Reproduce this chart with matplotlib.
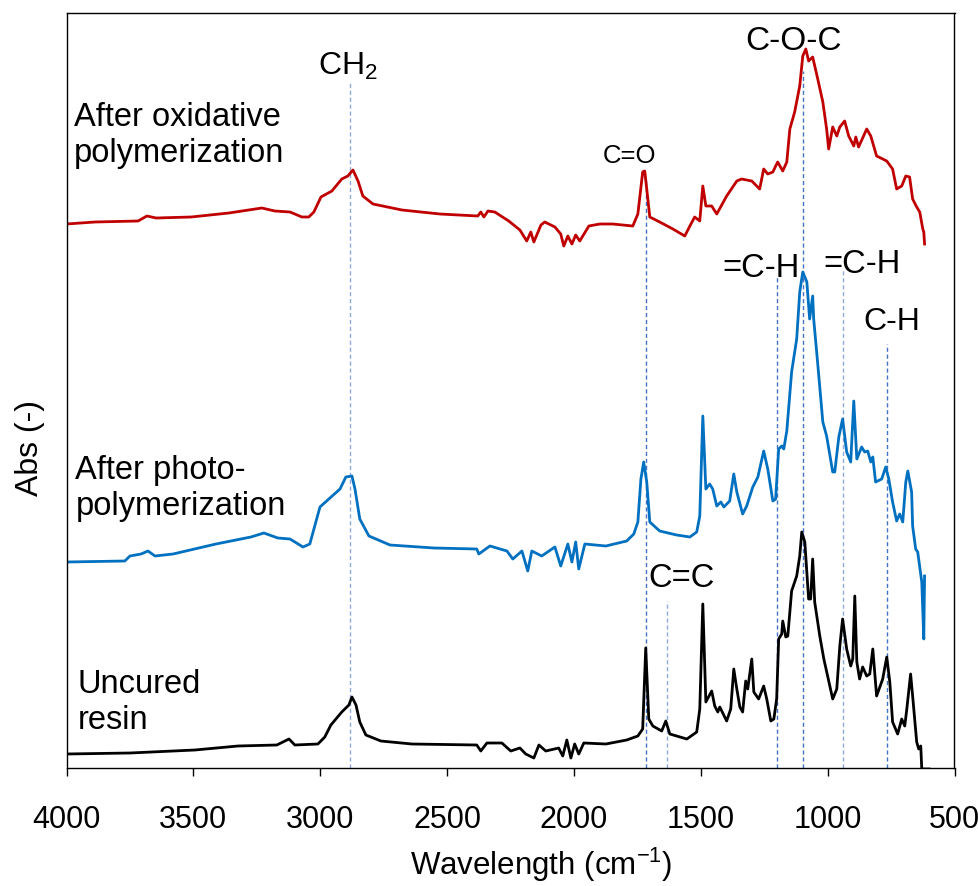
import matplotlib
matplotlib.use('Agg')
import matplotlib.pyplot as plt

## FTIR spectra of the resin, stacked
plt.rcParams['font.family'] = ['Liberation Sans', 'DejaVu Sans']
plt.rcParams['mathtext.fontset'] = 'custom'
plt.rcParams['mathtext.rm'] = 'Liberation Sans'
plt.rcParams['mathtext.it'] = 'Liberation Sans:italic'

# Uncured resin (black)
wn_uncured = [4000, 3750, 3494, 3324, 3171, 3123, 3100, 3009, 2982, 2958, 2915, 2887, 2875, 2859,
              2844, 2820, 2761, 2639, 2383, 2367, 2343, 2284, 2249, 2213, 2190, 2158, 2138, 2111,
              2060, 2044, 2028, 2012, 1997, 1981, 1961, 1874, 1792, 1748, 1729, 1717, 1705, 1689,
              1654, 1638, 1622, 1555, 1516, 1504, 1492, 1480, 1457, 1445, 1433, 1425, 1398, 1382,
              1370, 1358, 1346, 1335, 1323, 1315, 1299, 1291, 1272, 1252, 1240, 1224, 1212, 1201,
              1193, 1181, 1177, 1165, 1157, 1142, 1122, 1110, 1102, 1090, 1075, 1067, 1059, 1051,
              1031, 1015, 980, 964, 952, 941, 925, 909, 901, 893, 885, 874, 862, 846, 834, 822,
              807, 783, 767, 755, 744, 724, 708, 696, 688, 673, 665, 649, 641, 633, 629, 600]
abs_uncured = [0.12, 0.13, 0.16, 0.20, 0.21, 0.27, 0.21, 0.22, 0.29, 0.41, 0.54, 0.61, 0.69, 0.61,
               0.44, 0.31, 0.25, 0.22, 0.21, 0.15, 0.23, 0.23, 0.15, 0.18, 0.12, 0.08, 0.21, 0.15,
               0.18, 0.10, 0.26, 0.08, 0.22, 0.12, 0.23, 0.22, 0.26, 0.30, 0.37, 1.18, 0.47, 0.40,
               0.35, 0.45, 0.32, 0.27, 0.34, 0.57, 1.62, 0.64, 0.75, 0.60, 0.54, 0.59, 0.45, 0.57,
               0.97, 0.77, 0.59, 0.54, 0.85, 0.77, 1.07, 0.74, 0.67, 0.80, 0.67, 0.45, 0.47, 0.67,
               1.27, 1.32, 1.45, 1.29, 1.30, 1.75, 1.90, 2.10, 2.34, 2.24, 1.67, 1.67, 2.07, 1.64,
               1.30, 1.07, 0.67, 0.77, 1.20, 1.47, 1.17, 1.00, 1.07, 1.70, 1.04, 0.87, 0.99, 0.90,
               0.92, 1.17, 0.70, 0.87, 1.09, 0.84, 0.44, 0.32, 0.47, 0.40, 0.57, 0.92, 0.70, 0.24,
               0.17, 0.20, -0.03, -0.03]

# After photo-polymerization (blue)
wn_photo = [4000, 3770, 3750, 3706, 3679, 3651, 3580, 3411, 3273, 3222, 3167, 3119, 3068, 3041,
            3001, 2966, 2922, 2899, 2875, 2863, 2844, 2808, 2725, 2552, 2383, 2375, 2331, 2264,
            2241, 2205, 2182, 2166, 2127, 2075, 2052, 2024, 2008, 1993, 1981, 1957, 1874, 1792,
            1764, 1748, 1736, 1725, 1713, 1701, 1662, 1595, 1543, 1516, 1504, 1492, 1480, 1465,
            1453, 1437, 1421, 1409, 1386, 1370, 1358, 1335, 1319, 1295, 1275, 1252, 1236, 1216,
            1205, 1193, 1181, 1173, 1161, 1142, 1122, 1110, 1098, 1082, 1071, 1059, 1055, 1039,
            1019, 1004, 980, 972, 956, 941, 925, 909, 897, 885, 866, 854, 842, 830, 822, 811,
            787, 771, 759, 744, 728, 716, 704, 692, 684, 669, 665, 653, 645, 629, 621, 618]
abs_photo = [0.04, 0.05, 0.10, 0.12, 0.15, 0.10, 0.12, 0.22, 0.29, 0.33, 0.28, 0.27, 0.19, 0.22,
             0.59, 0.67, 0.77, 0.89, 0.90, 0.77, 0.47, 0.30, 0.21, 0.18, 0.17, 0.12, 0.20, 0.15,
             0.07, 0.15, -0.05, 0.15, 0.10, 0.19, 0.00, 0.22, 0.04, 0.24, -0.03, 0.22, 0.20, 0.25,
             0.32, 0.44, 0.87, 1.04, 0.84, 0.44, 0.35, 0.31, 0.29, 0.34, 0.50, 1.50, 0.77, 0.82,
             0.77, 0.60, 0.64, 0.59, 0.65, 0.92, 0.74, 0.52, 0.60, 0.79, 0.89, 1.15, 0.97, 0.65,
             0.67, 1.17, 1.20, 1.17, 1.35, 1.94, 2.27, 2.74, 2.94, 2.84, 2.47, 2.70, 2.47, 2.02,
             1.44, 1.30, 0.94, 0.94, 1.29, 1.47, 1.14, 1.04, 1.65, 1.07, 1.19, 1.14, 1.15, 1.04,
             1.09, 0.84, 0.87, 0.99, 0.87, 0.64, 0.45, 0.52, 0.44, 0.84, 0.95, 0.74, 0.40, 0.17,
             0.14, -0.16, -0.73, -0.10]

# After oxidative polymerization (red)
wn_oxid = [4000, 3888, 3718, 3683, 3647, 3509, 3360, 3230, 3179, 3119, 3072, 3045, 3025, 2997,
           2954, 2915, 2891, 2871, 2851, 2832, 2792, 2678, 2528, 2379, 2367, 2355, 2339, 2312,
           2257, 2213, 2186, 2170, 2158, 2130, 2115, 2075, 2052, 2040, 2024, 2008, 1993, 1977,
           1941, 1898, 1847, 1768, 1748, 1729, 1721, 1713, 1701, 1662, 1610, 1563, 1543, 1524,
           1504, 1492, 1480, 1457, 1437, 1398, 1358, 1339, 1299, 1268, 1252, 1236, 1216, 1197,
           1177, 1161, 1149, 1130, 1110, 1098, 1086, 1075, 1059, 1039, 1019, 1004, 996, 980,
           964, 952, 933, 917, 897, 889, 878, 846, 830, 807, 767, 744, 728, 708, 692, 677, 665,
           649, 637, 625, 621, 618]
abs_oxid = [0.02, 0.04, 0.05, 0.10, 0.08, 0.09, 0.13, 0.18, 0.15, 0.14, 0.09, 0.09, 0.14, 0.29,
            0.35, 0.47, 0.50, 0.56, 0.45, 0.30, 0.22, 0.16, 0.12, 0.10, 0.14, 0.09, 0.15, 0.14,
            0.05, -0.04, -0.15, -0.06, -0.16, 0.01, 0.04, -0.01, -0.08, -0.20, -0.10, -0.18, -0.09,
            -0.15, 0.00, 0.02, 0.02, 0.00, 0.12, 0.54, 0.55, 0.37, 0.09, 0.04, -0.03, -0.10, 0.00,
            0.09, 0.05, 0.40, 0.20, 0.20, 0.12, 0.30, 0.45, 0.47, 0.45, 0.37, 0.57, 0.52, 0.54,
            0.64, 0.55, 0.64, 0.97, 1.14, 1.40, 1.70, 1.77, 1.65, 1.69, 1.47, 1.24, 0.97, 0.77,
            0.99, 0.90, 0.99, 1.05, 0.90, 0.80, 0.89, 0.79, 0.97, 0.90, 0.70, 0.65, 0.57, 0.37,
            0.40, 0.50, 0.49, 0.27, 0.19, 0.14, -0.03, -0.06, -0.18]

# vertical stacking of the three spectra
offsets = {'uncured': 0.0, 'photo': 2.0, 'oxid': 5.4}

# band assignments: label, wavenumber, top of the marker line
band_labels = ['CH$_2$', 'C=O', 'C=C', '=C-H', 'C-O-C', '=C-H', 'C-H']
band_wn = [2883, 1717, 1634, 1201, 1098, 941, 767]
band_top = [6.84, 5.86, 1.65, 4.89, 6.95, 4.97, 4.22]
band_color = ['#8FAADC', '#4472C4', '#8FAADC', '#4472C4', '#4472C4', '#8FAADC', '#4472C4']
# label anchor (wavenumber, baseline height, font size)
label_x = [2891, 1780, 1575, 1264, 1134, 866, 748]
label_y = [6.92, 6.04, 1.80, 4.90, 7.17, 4.94, 4.37]
label_fs = [23, 18.5, 23.5, 23.5, 24, 23.5, 23]

fig = plt.figure(figsize=(9.79, 8.87), dpi=100)
ax = fig.add_axes([66.5/979, 1-769/887, 888/979, 755/887])

for wn, top, c in zip(band_wn, band_top, band_color):
    ax.plot([wn, wn], [-0.02, top], color=c, lw=1.0, ls=(0, (3, 2)))

ax.plot(wn_uncured, [v + offsets['uncured'] for v in abs_uncured], color='black', lw=2.0)
ax.plot(wn_photo, [v + offsets['photo'] for v in abs_photo], color='#0070C0', lw=2.0)
ax.plot(wn_oxid, [v + offsets['oxid'] for v in abs_oxid], color='#C00000', lw=2.0)

for lab, x, y, fs in zip(band_labels, label_x, label_y, label_fs):
    ax.text(x, y, lab, fontsize=fs, ha='center', va='baseline')

ax.text(3970, 6.65, 'After oxidative\npolymerization', fontsize=23.5, ha='left', va='top',
        linespacing=1.2)
ax.text(3965, 3.12, 'After photo-\npolymerization', fontsize=23.5, ha='left', va='top',
        linespacing=1.2)
ax.text(3955, 0.98, 'Uncured\nresin', fontsize=23.5, ha='left', va='top', linespacing=1.2)

ax.set_xlim(4000, 500)
ax.set_ylim(-0.02, 7.53)
ax.set_xticks([4000, 3500, 3000, 2500, 2000, 1500, 1000, 500])
ax.set_yticks([])
ax.tick_params(axis='x', direction='out', length=6, width=1.0, labelsize=22, pad=20)
for s in ax.spines.values():
    s.set_linewidth(1.0)

ax.set_xlabel('Wavelength (cm$^{-1}$)', fontsize=22.5)
ax.xaxis.set_label_coords((541-66.5)/888, -0.102)
fig.text(30/979, 1-448/887, 'Abs (-)', fontsize=23, rotation=90, ha='center', va='center')

plt.savefig('out.png', dpi=100)
